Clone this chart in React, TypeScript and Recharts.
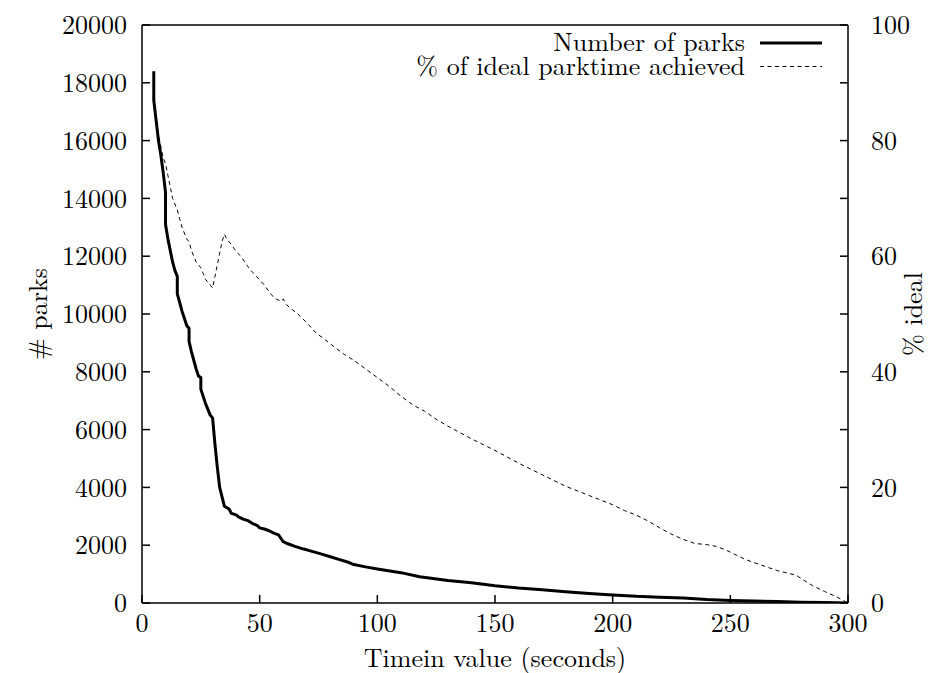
import React from 'react';
import { LineChart, Line, XAxis, YAxis, Legend } from 'recharts';

// Number of parks (left axis)
const parksX = [5, 5, 6, 7, 8, 9, 10, 10, 11, 12, 13, 14, 15, 15, 16, 17, 18, 19, 20, 20, 21, 22, 23, 24, 25, 25, 26, 27, 28, 29, 30, 31, 32, 33, 35, 37, 38, 40, 41, 43, 45, 47, 49, 50, 52, 54, 56, 58, 60, 62, 65, 68, 70, 73, 76, 80, 84, 88, 90, 95, 100, 110, 118, 130, 140, 150, 160, 170, 180, 190, 200, 210, 220, 230, 240, 250, 260, 270, 280, 290, 300];
const parksY = [18400, 17400, 16700, 16000, 15500, 14900, 14200, 13100, 12600, 12200, 11800, 11500, 11300, 10700, 10400, 10100, 9850, 9600, 9500, 9050, 8700, 8400, 8100, 7850, 7800, 7400, 7150, 6900, 6700, 6500, 6400, 5500, 4700, 4000, 3350, 3250, 3100, 3050, 2980, 2900, 2850, 2750, 2680, 2600, 2560, 2500, 2420, 2360, 2120, 2050, 1960, 1880, 1840, 1770, 1700, 1600, 1500, 1400, 1330, 1250, 1180, 1050, 910, 780, 700, 600, 520, 460, 390, 330, 280, 230, 200, 170, 120, 90, 70, 50, 30, 15, 0];

// % of ideal parktime achieved (right axis)
const idealX = [5, 6, 7, 8, 9, 10, 11, 12, 13, 14, 15, 16, 17, 18, 19, 20, 21, 22, 23, 24, 25, 26, 27, 28, 29, 30, 31, 32, 33, 34, 35, 36, 38, 40, 42, 45, 47, 50, 52, 55, 57, 59, 60, 61, 63, 66, 70, 74, 78, 82, 86, 90, 95, 100, 105, 110, 115, 120, 125, 130, 135, 140, 145, 150, 155, 160, 165, 170, 175, 180, 185, 190, 195, 200, 205, 210, 215, 220, 225, 230, 235, 240, 244, 248, 252, 256, 260, 265, 270, 275, 278, 281, 285, 290, 295, 300];
const idealY = [87, 84, 81, 79, 77, 76, 74, 72, 70, 69, 68, 66.5, 65, 64, 63, 62.5, 61, 60, 59, 58.5, 58, 57, 56, 55.5, 55, 54.5, 56.5, 58.5, 60.5, 62.5, 63.8, 63, 62, 60.8, 60, 58.2, 57.2, 55.9, 55, 53.3, 52.6, 52.2, 52.6, 51.8, 51, 50.1, 48.5, 46.7, 45.5, 44.2, 43, 42, 40.5, 39, 37.5, 35.8, 34.3, 33.2, 31.8, 30.6, 29.5, 28.4, 27.4, 26.4, 25.3, 24.2, 23.2, 22.2, 21.2, 20.2, 19.4, 18.6, 17.8, 17, 16, 15.2, 14.2, 13, 11.9, 11, 10.3, 10.1, 9.8, 9.2, 8.4, 7.6, 7, 6.3, 5.6, 5.1, 4.8, 4, 3, 2, 1.1, 0];

const xTicks = [0, 50, 100, 150, 200, 250, 300];
const leftTicks = [0, 2000, 4000, 6000, 8000, 10000, 12000, 14000, 16000, 18000, 20000];
const rightTicks = [0, 10, 20, 30, 40, 50, 60, 70, 80, 90, 100];

const seriesNames = ['Number of parks', '% of ideal parktime achieved'];
const xTitle = 'Timein value (seconds)';
const leftTitle = '# parks';
const rightTitle = '% ideal';

const parksData = parksX.map((x, i) => ({ x, y: parksY[i] }));
const idealData = idealX.map((x, i) => ({ x, y: idealY[i] }));

const FONT = '"Latin Modern Roman", monospace';
const tickStyle = { fill: '#000', fontSize: 26, fontFamily: FONT };
const lineStyle = { stroke: '#000', strokeWidth: 1.5 };

const YTitle = (props: any) => {
  const { viewBox, text, dxFromLeft } = props;
  const cx = viewBox.x + dxFromLeft;
  const cy = viewBox.y + viewBox.height / 2;
  return (
    <text x={cx} y={cy} transform={`rotate(-90 ${cx} ${cy})`} textAnchor="middle" dominantBaseline="central"
      fontFamily={FONT} fontSize={26} fill="#000">{text}</text>
  );
};

const XTitle = (props: any) => {
  const { viewBox, text } = props;
  const cx = viewBox.x + viewBox.width / 2;
  return (
    <text x={cx} y={viewBox.y + 53} textAnchor="middle" dominantBaseline="central"
      fontFamily={FONT} fontSize={26} fill="#000">{text}</text>
  );
};

const LegendBox = () => (
  <div style={{ fontFamily: FONT, fontSize: 26, lineHeight: '24px', color: '#000' }}>
    {seriesNames.map((name, i) => (
      <div key={name} style={{ display: 'flex', justifyContent: 'flex-end', alignItems: 'flex-start', paddingRight: 129, whiteSpace: 'nowrap', height: 24 }}>
        <span style={{ display: 'inline-block', height: 24, lineHeight: '24px', overflow: 'visible' }}>{name}</span>
        <svg width={62} height={24} style={{ marginLeft: 15, display: 'block' }}>
          {i === 0 ? (
            <line x1={0} x2={62} y1={14} y2={14} stroke="#000" strokeWidth={3} />
          ) : (
            <line x1={0} x2={62} y1={13.5} y2={13.5} stroke="#000" strokeWidth={1} strokeDasharray="4 3.5" />
          )}
        </svg>
      </div>
    ))}
  </div>
);

export default function App() {
  return (
    <div style={{ position: 'absolute', left: 0, top: 0, width: 951, height: 673, background: '#fff', fontFamily: FONT }}>
      <LineChart width={951} height={673} margin={{ top: 24, right: 0, bottom: 0, left: 0 }}>
        <XAxis xAxisId="main" dataKey="x" type="number" domain={[0, 300]} ticks={xTicks} interval={0}
          orientation="bottom" height={70} tickSize={-8} tickMargin={19} tick={tickStyle}
          axisLine={lineStyle} tickLine={lineStyle} allowDataOverflow
          label={<XTitle text={xTitle} />} />
        <XAxis xAxisId="top" type="number" domain={[0, 300]} ticks={xTicks} interval={0}
          orientation="top" height={1} tickSize={-8} tick={false}
          axisLine={lineStyle} tickLine={lineStyle} allowDataOverflow />
        <YAxis yAxisId="left" type="number" domain={[0, 20000]} ticks={leftTicks} interval={0}
          orientation="left" width={142} tickSize={-8} tickMargin={23} tick={tickStyle}
          axisLine={lineStyle} tickLine={lineStyle} allowDataOverflow
          label={<YTitle text={leftTitle} dxFromLeft={36} />} />
        <YAxis yAxisId="right" type="number" domain={[0, 100]} ticks={rightTicks} interval={0}
          orientation="right" width={103} tickSize={-8} tickMargin={31} tick={tickStyle}
          tickFormatter={(v: number) => (v % 20 === 0 ? String(v) : '')}
          axisLine={lineStyle} tickLine={lineStyle} allowDataOverflow
          label={<YTitle text={rightTitle} dxFromLeft={63} />} />
        <Legend layout="horizontal" verticalAlign="middle" align="center" content={<LegendBox />}
          wrapperStyle={{ position: 'absolute', top: 29, left: 0, width: 951, height: 'auto' }} />
        <Line xAxisId="main" yAxisId="left" data={parksData} dataKey="y" type="linear" stroke="#000"
          strokeWidth={3} dot={false} isAnimationActive={false} name={seriesNames[0]} strokeLinejoin="round" />
        <Line xAxisId="main" yAxisId="right" data={idealData} dataKey="y" type="linear" stroke="#000"
          strokeWidth={1} strokeDasharray="4 3.5" dot={false} isAnimationActive={false} name={seriesNames[1]} />
      </LineChart>
    </div>
  );
}
